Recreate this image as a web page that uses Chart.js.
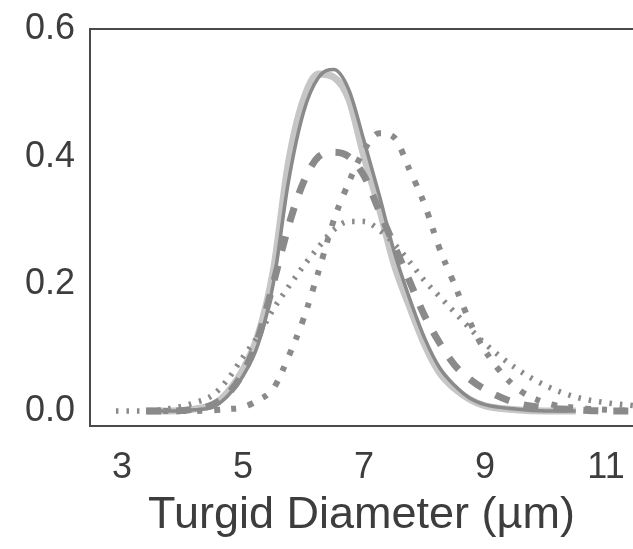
<!DOCTYPE html>
<html>
<head>
<meta charset="utf-8">
<script src="https://cdn.jsdelivr.net/npm/chart.js@4.4.0/dist/chart.umd.min.js"></script>
<style>
  html, body { margin: 0; padding: 0; background: #fff; }
  #wrap { width: 633px; height: 549px; }
</style>
</head>
<body>
<div id="wrap"><canvas id="chart" width="633" height="549"></canvas></div>
<script>
// diameter grid (µm) shared by every curve
const diameters = [2.9, 3.4, 3.8, 4.2, 4.5, 4.75, 5.0, 5.25, 5.5, 5.75, 6.0, 6.25, 6.5, 6.75,
                   7.0, 7.25, 7.5, 7.75, 8.0, 8.25, 8.5, 8.75, 9.0, 9.5, 10.0, 10.5, 11.0, 11.5];

// density curves (null = not drawn there)
const lightSolid = [null, 0, 0, 0.003, 0.01, 0.03, 0.065, 0.12, 0.22, 0.39, 0.49, 0.53, 0.525, 0.49,
                    0.40, 0.32, 0.23, 0.165, 0.105, 0.06, 0.035, 0.018, 0.008, 0.002, 0, 0, null, null];
const darkSolid = [null, 0, 0, 0.002, 0.006, 0.024, 0.055, 0.105, 0.2, 0.36, 0.47, 0.525, 0.537, 0.505,
                   0.425, 0.34, 0.25, 0.178, 0.115, 0.068, 0.04, 0.02, 0.01, 0.003, 0, 0, null, null];
const dashed = [null, 0, 0, 0.003, 0.01, 0.027, 0.06, 0.115, 0.2, 0.29, 0.36, 0.40, 0.407, 0.40,
                0.37, 0.315, 0.26, 0.205, 0.15, 0.107, 0.072, 0.05, 0.034, 0.013, 0.005, 0.002, 0, 0];
const dashDot = [null, 0, 0, 0, 0.001, 0.003, 0.006, 0.017, 0.035, 0.085, 0.145, 0.22, 0.30, 0.36,
                 0.41, 0.437, 0.43, 0.38, 0.325, 0.255, 0.198, 0.14, 0.095, 0.038, 0.013, 0.005, 0.002, 0];
const dotted = [0, 0, 0.004, 0.013, 0.025, 0.05, 0.085, 0.118, 0.16, 0.195, 0.228, 0.258, 0.285, 0.298,
                0.298, 0.285, 0.263, 0.235, 0.205, 0.18, 0.155, 0.13, 0.106, 0.068, 0.04, 0.022, 0.013, 0.008];

const xTicks = [3, 5, 7, 9, 11];
const yTicks = [0, 0.2, 0.4, 0.6];

const toPoints = ys => diameters.map((x, i) => ({ x: x, y: ys[i] })).filter(p => p.y !== null);

const textColor = '#3d3d3d';
const lineGrey = '#8a8a8a';
const fontFamily = "'Liberation Sans', Arial, sans-serif";

// left / top / bottom frame (right side runs off the picture)
const framePlugin = {
    id: 'frame',
    afterDatasetsDraw(chart) {
        const { ctx, chartArea: a } = chart;
        ctx.save();
        ctx.strokeStyle = '#4a4a4a';
        ctx.lineWidth = 2;
        ctx.beginPath();
        ctx.moveTo(a.right + 2, a.top);
        ctx.lineTo(a.left, a.top);
        ctx.lineTo(a.left, a.bottom);
        ctx.lineTo(a.right + 2, a.bottom);
        ctx.stroke();
        ctx.restore();
    }
};

function curve(data, color, width, dash, order) {
    return {
        data: toPoints(data),
        borderColor: color,
        borderWidth: width,
        borderDash: dash,
        pointRadius: 0,
        fill: false,
        cubicInterpolationMode: 'monotone',
        order: order
    };
}

new Chart(document.getElementById('chart'), {
    type: 'line',
    data: {
        datasets: [
            curve(lightSolid, '#c6c6c6', 7, [], 5),
            curve(darkSolid, lineGrey, 3.5, [], 4),
            curve(dashed, lineGrey, 7, [15, 15], 3),
            curve(dashDot, lineGrey, 6, [6, 11, 5, 12], 2),
            curve(dotted, lineGrey, 5.5, [2.5, 8], 1)
        ]
    },
    options: {
        responsive: false,
        animation: false,
        layout: { padding: { top: 29, right: 0, bottom: 0, left: 0 } },
        plugins: { legend: { display: false }, tooltip: { enabled: false } },
        scales: {
            x: {
                type: 'linear',
                min: 2.471,
                max: 11.446,
                grid: { display: false, drawTicks: false },
                border: { display: false },
                afterBuildTicks: s => { s.ticks = xTicks.map(v => ({ value: v })); },
                afterFit: s => { s.height = 123; s.paddingLeft = 0; s.paddingRight = 0; },
                ticks: {
                    color: textColor,
                    padding: 20,
                    font: { family: fontFamily, size: 36 }
                },
                title: {
                    display: true,
                    text: 'Turgid Diameter (µm)',
                    color: textColor,
                    padding: { top: 0, bottom: 6 },
                    font: { family: fontFamily, size: 45 }
                }
            },
            y: {
                min: -0.0236,
                max: 0.6008,
                grid: { display: false, drawTicks: false },
                border: { display: false },
                afterBuildTicks: s => { s.ticks = yTicks.map(v => ({ value: v })); },
                afterFit: s => { s.width = 90; s.paddingTop = 0; s.paddingBottom = 0; },
                ticks: {
                    color: textColor,
                    padding: 15,
                    callback: v => v.toFixed(1),
                    font: { family: fontFamily, size: 36 }
                }
            }
        }
    },
    plugins: [framePlugin]
});
</script>
</body>
</html>
